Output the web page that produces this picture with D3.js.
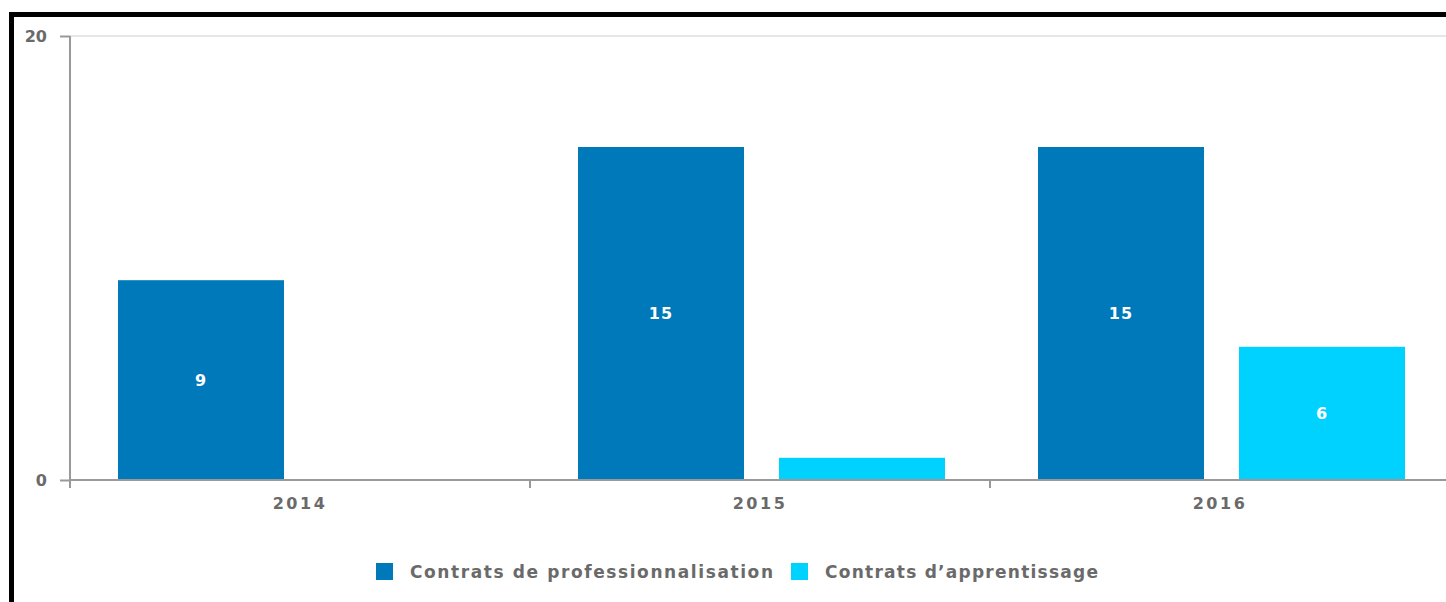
<!DOCTYPE html>
<html><head><meta charset="utf-8">
<script src="https://cdn.jsdelivr.net/npm/d3@7"></script>
<style>
html,body{margin:0;padding:0;background:#fff;}
svg{display:block;font-family:"DejaVu Sans",Verdana,sans-serif;}
</style></head>
<body>
<svg id="c" width="1446" height="602"></svg>
<script>
const years = ["2014", "2015", "2016"];
const seriesNames = ["Contrats de professionnalisation", "Contrats d\u2019apprentissage"];
const proValues = [9, 15, 15];
const appValues = [0, 1, 6];
const yTicks = [0, 20];
const colors = ["#0079bb", "#00d2ff"];

const svg = d3.select("#c");
const W = 1446, H = 602;

// frame (top & left thick black border)
svg.append("rect").attr("x", 9).attr("y", 12).attr("width", W).attr("height", 5).attr("fill", "#000");
svg.append("rect").attr("x", 9).attr("y", 12).attr("width", 5).attr("height", H).attr("fill", "#000");

const x0 = d3.scaleBand().domain(years).range([70, 1450]).padding(0);
const x1 = d3.scaleBand().domain(seriesNames).range([48, 415]).paddingInner(0.174).paddingOuter(0);
const y = d3.scaleLinear().domain([0, 20]).range([480, 36]);

// grid line at top
svg.append("g").selectAll("line").data(yTicks.filter(d => d > 0)).join("line")
  .attr("x1", 70).attr("x2", W).attr("y1", d => y(d)).attr("y2", d => y(d))
  .attr("stroke", "#e6e6e6").attr("stroke-width", 2);

// bars
const rows = years.map((yr, i) => ({year: yr, vals: [proValues[i], appValues[i]]}));
const g = svg.append("g");
rows.forEach(r => {
  r.vals.forEach((v, j) => {
    if (v <= 0) return;
    const bx = x0(r.year) + x1(seriesNames[j]);
    g.append("rect").attr("x", bx).attr("y", y(v))
      .attr("width", x1.bandwidth()).attr("height", y(0) - y(v))
      .attr("fill", colors[j]);
    if (y(0) - y(v) > 30) {
      g.append("text").attr("x", bx + x1.bandwidth() / 2).attr("y", (y(v) + y(0)) / 2)
        .attr("dy", "0.36em").attr("text-anchor", "middle")
        .attr("fill", "#fff").attr("font-weight", "bold").attr("font-size", 16)
        .attr("letter-spacing", 1)
        .text(v);
    }
  });
});

// y axis
const yAxis = svg.append("g").attr("transform", "translate(70,0)")
  .call(d3.axisLeft(y).tickValues(yTicks).tickSize(10).tickPadding(13).tickFormat(d3.format("d")));
yAxis.select(".domain").attr("stroke", "#999").attr("stroke-width", 2).attr("d", "M0,36V480");
yAxis.selectAll(".tick line").attr("stroke", "#999").attr("stroke-width", 2);
yAxis.selectAll(".tick text").attr("fill", "#6a6a6a").attr("font-weight", "bold")
  .attr("font-size", 16).attr("font-family", "DejaVu Sans");

// x axis
const xAxis = svg.append("g").attr("transform", "translate(0,480)")
  .call(d3.axisBottom(x0).tickSize(0).tickPadding(18));
xAxis.select(".domain").attr("stroke", "#999").attr("stroke-width", 2).attr("d", "M70,0H1446");
xAxis.selectAll(".tick text").attr("fill", "#6a6a6a").attr("font-weight", "bold")
  .attr("font-size", 16).attr("font-family", "DejaVu Sans").attr("letter-spacing", 2.5);
// band boundary ticks
svg.append("g").selectAll("line").data(years).join("line")
  .attr("x1", d => x0(d)).attr("x2", d => x0(d)).attr("y1", 480).attr("y2", 488)
  .attr("stroke", "#999").attr("stroke-width", 2);

// legend
const legX = [376, 791];
const legW = [363, 273];
const leg = svg.append("g");
seriesNames.forEach((name, i) => {
  leg.append("rect").attr("x", legX[i]).attr("y", 563).attr("width", 17).attr("height", 17).attr("fill", colors[i]);
  leg.append("text").attr("x", legX[i] + 34).attr("y", 572).attr("dy", "0.36em")
    .attr("fill", "#6a6a6a").attr("font-weight", "bold").attr("font-size", 17)
    .attr("textLength", legW[i]).attr("lengthAdjust", "spacing")
    .text(name);
});
</script>
</body></html>
